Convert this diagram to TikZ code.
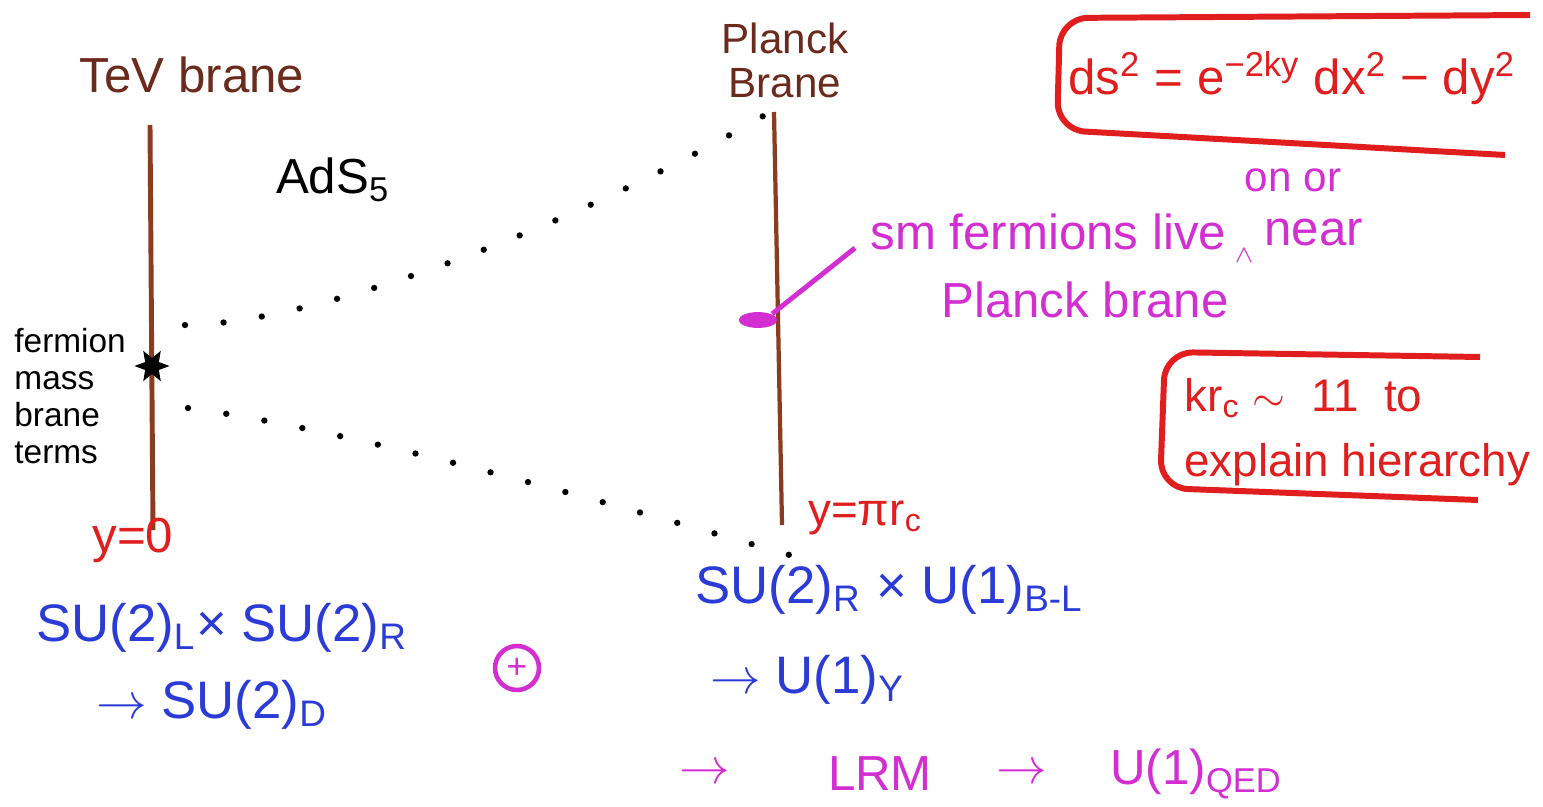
\documentclass[tikz,border=0pt]{standalone}
\usepackage{fontspec}
\setmainfont{Liberation Sans}
\usetikzlibrary{shapes.geometric}
\definecolor{branebrown}{HTML}{8A3C1E}
\definecolor{labelbrown}{HTML}{6A2A1C}
\definecolor{inkred}{HTML}{E01E1E}
\definecolor{inkblue}{HTML}{2B3BD6}
\definecolor{inkpink}{HTML}{D22ED2}
\begin{document}
\begin{tikzpicture}[x=0.01cm,y=-0.01cm,
  brane/.style={branebrown, line width=1.4pt},
  bulkdots/.style={line width=1.8pt, line cap=round, dash pattern=on 0pt off 11pt},
  redbox/.style={inkred, line width=1.7pt, rounded corners=8pt},
  group/.style={inkblue, font=\fontsize{15}{18}\selectfont},
  pinktext/.style={inkpink, font=\fontsize{14}{18}\selectfont}]
  \useasboundingbox (0,0) rectangle (1543,806);
  % the two branes
  \node[labelbrown, font=\fontsize{14}{16}\selectfont] (tevlabel) at (192,75) {TeV brane};
  \coordinate (tevtop) at (150,125);
  \coordinate (tevbot) at (153,530);
  \draw[brane] (tevtop) -- (tevbot);
  \node[font=\fontsize{14}{16}\selectfont] (ads) at (333,180) {AdS\textsubscript{5}};
  \node[labelbrown, align=center, font=\fontsize{12}{12.5}\selectfont] (pllabel) at (785,60) {Planck\\Brane};
  \coordinate (pltop) at (774,112);
  \coordinate (plbot) at (782,525);
  \draw[brane, line width=1.2pt] (pltop) -- (plbot);
  % the bulk between them
  \coordinate (upstart) at (185,325);
  \coordinate (upend) at (765,115);
  \draw[bulkdots] (upstart) .. controls (300,325) and (550,240) .. (upend);
  \coordinate (lowstart) at (188,408);
  \coordinate (lowend) at (800,558);
  \draw[bulkdots] (lowstart) .. controls (350,430) and (600,500) .. (lowend);
  % TeV brane side
  \node[star, star points=6, star point ratio=0.45, fill=black, minimum size=4.5pt, inner sep=0pt] (mass) at (152,366) {};
  \node[anchor=west, align=left, font=\fontsize{9.5}{10.6}\selectfont] (massterms) at (2,396) {fermion\\mass\\brane\\terms};
  \node[inkred, font=\fontsize{14}{16}\selectfont] (yzero) at (133,540) {y=0};
  \node[inkred, anchor=west, font=\fontsize{13}{16}\selectfont] (ypi) at (796,518) {y=πr\textsubscript{c}};
  % Planck brane side
  \node[ellipse, fill=inkpink, minimum width=11pt, minimum height=4.5pt, inner sep=0pt] (blob) at (758,320) {};
  \node[pinktext, anchor=west] (smlive) at (858,232) {sm fermions live};
  \node[inkpink, font=\fontsize{7}{8}\selectfont] (caret) at (1244,256) {$\wedge$};
  \node[pinktext, anchor=west] (near) at (1252,232) {near};
  \node[inkpink, font=\fontsize{12}{14}\selectfont] (onor) at (1293,180) {on or};
  \node[pinktext] (plbrane) at (1085,300) {Planck brane};
  \coordinate (ptrtail) at (855,248);
  \draw[inkpink, line width=1.4pt] (ptrtail) -- (blob.north east);
  % boxed remarks
  \node[inkred, font=\fontsize{14}{16}\selectfont] (metric) at (1292,78) {ds\textsuperscript{2} = e\textsuperscript{−2ky} dx\textsuperscript{2} − dy\textsuperscript{2}};
  \draw[redbox] (1530,15) -- (1060,18) -- (1057,130) -- (1505,155);
  \node[inkred, anchor=west, align=left, font=\fontsize{13}{18.5}\selectfont] (hier) at (1172,432) {kr\textsubscript{c} $\sim$\ \ 11\ \ to\\explain hierarchy};
  \draw[redbox] (1480,357) -- (1165,352) -- (1160,488) -- (1478,500);
  % symmetry breaking
  \node[group] (sulr) at (222,628) {SU(2)\textsubscript{L}× SU(2)\textsubscript{R}};
  \node[group] (sud) at (212,705) {$\rightarrow$ SU(2)\textsubscript{D}};
  \node[circle, draw=inkpink, line width=1.3pt, minimum size=12.5pt, inner sep=0pt, inkpink, font=\fontsize{10}{10}\selectfont] (oplus) at (517,668) {+};
  \node[group, anchor=west] (surbl) at (683,590) {SU(2)\textsubscript{R} × U(1)\textsubscript{B-L}};
  \node[group, anchor=west] (uy) at (698,680) {$\rightarrow$ U(1)\textsubscript{Y}};
  \node[pinktext] (arrowa) at (705,774) {$\rightarrow$};
  \node[pinktext] (lrm) at (880,774) {LRM};
  \node[pinktext] (arrowb) at (1022,774) {$\rightarrow$};
  \node[pinktext, anchor=west] (uqed) at (1098,774) {U(1)\textsubscript{QED}};
\end{tikzpicture}
\end{document}
